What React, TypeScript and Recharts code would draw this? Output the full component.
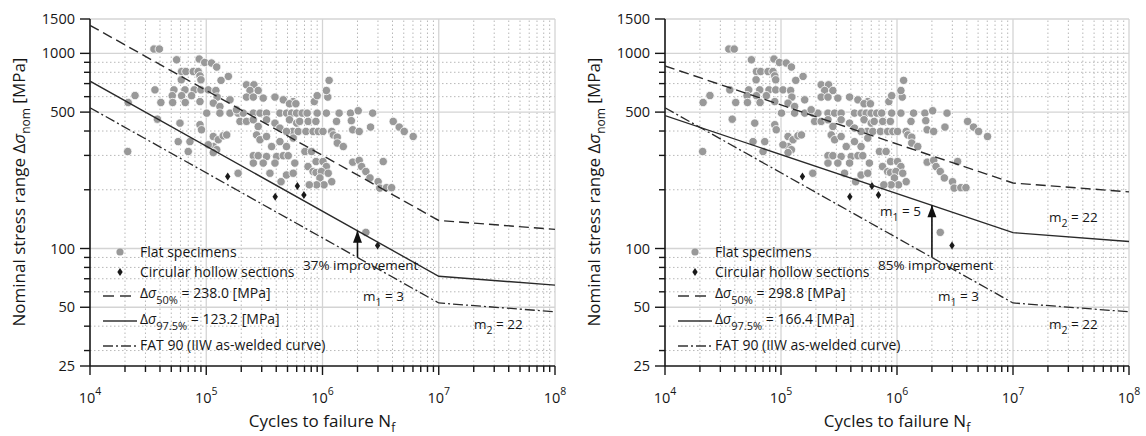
import React from 'react';
import { ScatterChart, Scatter, XAxis, YAxis, ReferenceLine } from 'recharts';

const FONT = "'Open Sans', sans-serif";
const INK = '#161616';

// Flat specimens: [cycles to failure, nominal stress range MPa]
const flatSpecimens: [number, number][] = [
  [3.55e4, 1052], [3.95e4, 1052],
  [5.56e4, 927], [8.7e4, 935], [9.7e4, 898], [1.11e5, 892], [1.23e5, 851], [1.55e5, 762],
  [6.14e4, 807], [6.68e4, 807], [7.73e4, 807], [8.53e4, 807], [8.83e4, 767],
  [6.1e4, 732], [9e4, 732], [1.34e5, 727],
  [2.22e5, 690], [2.57e5, 690],
  [3.62e4, 650], [5.27e4, 650], [6.56e4, 650], [7.88e4, 650], [9e4, 650], [1.04e5, 650], [1.21e5, 645], [2.38e5, 645], [2.8e5, 645],
  [2.44e4, 608], [5.1e4, 607], [6.14e4, 607], [7.48e4, 607], [1.24e5, 597], [1.6e5, 578], [2.22e5, 597], [2.54e5, 597], [3.09e5, 590], [3.9e5, 597], [4.6e5, 578], [5.6e5, 566],
  [2.13e4, 560], [4.07e4, 560], [5.14e4, 560], [6.6e4, 560], [8.83e4, 566], [1.15e5, 556], [1.31e5, 534],
  [5.2e5, 552], [5.9e5, 552], [8.5e5, 566], [9e5, 607], [1.11e6, 597], [1.08e6, 645], [1.14e6, 727],
  [1.01e5, 494], [1.31e5, 494], [1.6e5, 494], [1.88e5, 494], [2.08e5, 494], [2.54e5, 494], [2.9e5, 494], [3.3e5, 494], [4.3e5, 494], [4.91e5, 494], [5.42e5, 494], [5.98e5, 494], [6.69e5, 494], [7.38e5, 494], [9e5, 494], [1.08e6, 494], [1.39e6, 494], [1.74e6, 494], [2.7e6, 494],
  [1.82e5, 514], [2.03e6, 508],
  [3.8e4, 460], [5.94e4, 439], [8.83e4, 431], [9.1e4, 406],
  [1.95e5, 448], [2.22e5, 448], [2.54e5, 457], [2.8e5, 422], [3.3e5, 457], [3.9e5, 439], [4.3e5, 414], [5.2e5, 457], [6e5, 439],
  [6.36e5, 448], [7.53e5, 448], [8.77e5, 448], [1.32e6, 448], [1.77e6, 452],
  [5.53e5, 398], [6.18e5, 398], [7.2e5, 398], [8.3e5, 398], [9.2e5, 398], [1.01e6, 398], [1.2e6, 398],
  [1.82e6, 406], [2.07e6, 398], [2.59e6, 419],
  [4.06e6, 448], [4.57e6, 419], [5.05e6, 398], [6.03e6, 375],
  [5.74e4, 353], [7.24e4, 353],
  [1.15e5, 375], [1.27e5, 361], [1.4e5, 378], [1.5e5, 382], [1.15e5, 333], [1.04e5, 340],
  [2.71e5, 382], [2.9e5, 361], [3.3e5, 375], [3.65e5, 333], [4.3e5, 353], [4.9e5, 398], [5.6e5, 368],
  [1.24e6, 382], [1.34e6, 372], [1.34e6, 347], [1.51e6, 333],
  [2.11e4, 314], [7e4, 314], [1.23e5, 321], [1.15e5, 310],
  [4.9e5, 333], [7.06e5, 314], [8.05e5, 314],
  [2.54e5, 299], [2.8e5, 299], [3.3e5, 296], [4.03e5, 296], [4.6e5, 299], [5.07e5, 299],
  [2.54e5, 274], [3.09e5, 274], [3.9e5, 274], [5.78e5, 274],
  [8.8e5, 279], [1.01e6, 279], [1.08e6, 263], [7.5e5, 263], [8.3e5, 248],
  [1.82e6, 277], [2.07e6, 283], [2.17e6, 263], [2.36e6, 248], [2.56e6, 230], [3.33e6, 279],
  [1.88e5, 243], [3.53e5, 243], [4.9e5, 238], [5.6e5, 243], [4.4e5, 220],
  [8.8e5, 245], [9.8e5, 248], [1.12e6, 243], [9.5e5, 230], [1.2e6, 220], [1.03e6, 212], [8.9e5, 212], [7.7e5, 212],
  [3.01e6, 220], [3.11e6, 204], [3.55e6, 205], [3.93e6, 205],
  [2.36e6, 121],
];

// Circular hollow sections
const hollowSections: [number, number][] = [
  [1.53e5, 234], [3.92e5, 184], [6.08e5, 209], [6.92e5, 188], [2.98e6, 103.6],
];

// Design curves (knee at 1e7 cycles)
const leftMean50: [number, number][] = [[1e4, 1392], [1e7, 139.2], [1e8, 125.4]];
const leftP975: [number, number][] = [[1e4, 720.5], [1e7, 72.05], [1e8, 64.9]];
const rightMean50: [number, number][] = [[1e4, 862], [1e7, 216.6], [1e8, 195.1]];
const rightP975: [number, number][] = [[1e4, 480], [1e7, 120.6], [1e8, 108.6]];
const fat90: [number, number][] = [[1e4, 526.3], [1e7, 52.6], [1e8, 47.4]];

const leftArrow: [number, number][] = [[2e6, 90], [2e6, 123.2]];
const rightArrow: [number, number][] = [[2e6, 90], [2e6, 166.4]];

const xTicks = [
  1e4, 2e4, 3e4, 4e4, 5e4, 6e4, 7e4, 8e4, 9e4,
  1e5, 2e5, 3e5, 4e5, 5e5, 6e5, 7e5, 8e5, 9e5,
  1e6, 2e6, 3e6, 4e6, 5e6, 6e6, 7e6, 8e6, 9e6,
  1e7, 2e7, 3e7, 4e7, 5e7, 6e7, 7e7, 8e7, 9e7,
  1e8,
];
const xLabelled = [1e4, 1e5, 1e6, 1e7, 1e8];
const xSolidGrid = [1e5, 1e6, 1e7, 1e8];
const xDottedGrid = xTicks.filter((v) => !xLabelled.includes(v));

const yTicks = [25, 30, 40, 50, 60, 70, 80, 90, 100, 200, 300, 400, 500, 600, 700, 800, 900, 1000, 1500];
const yLabelled = [25, 50, 100, 500, 1000, 1500];
const ySolidGrid = [50, 100, 500, 1000, 1500];
const yDottedGrid = [30, 40, 60, 70, 80, 90, 200, 300, 400, 600, 700, 800, 900];

const toPts = (arr: [number, number][]) => arr.map(([x, y]) => ({ x, y }));

const YTick = (props: any) => {
  const { x, y, payload } = props;
  const v = payload.value;
  const lab = yLabelled.includes(v);
  const len = lab ? 10 : 6;
  return (
    <g>
      <line x1={x - len} x2={x} y1={y} y2={y} stroke={INK} strokeWidth={1.4} />
      {lab && (
        <text x={x - 15} y={y + 5} textAnchor="end" fontSize={14.5} fontWeight={500} fill={INK} fontFamily={FONT}>
          {v}
        </text>
      )}
    </g>
  );
};

const XTick = (props: any) => {
  const { x, y, payload } = props;
  const v = payload.value;
  const exp = Math.round(Math.log10(v));
  const lab = xLabelled.includes(v);
  const len = lab ? 9 : 6;
  return (
    <g>
      <line x1={x} x2={x} y1={y} y2={y + len} stroke={INK} strokeWidth={1.4} />
      {lab && (
        <text x={x} y={y + 37} textAnchor="middle" fontSize={14.5} fontWeight={500} fill={INK} fontFamily={FONT}>
          10
          <tspan dy={-8} fontSize={10.5}>{exp}</tspan>
        </text>
      )}
    </g>
  );
};

const Dot = (p: any) => (
  <circle cx={p.cx} cy={p.cy} r={4.2} fill="#999999" stroke="#ffffff" strokeWidth={0.8} />
);
const Diamond = (p: any) => (
  <path
    d={`M${p.cx},${p.cy - 4} L${p.cx + 2.7},${p.cy} L${p.cx},${p.cy + 4} L${p.cx - 2.7},${p.cy} Z`}
    fill="#1a1a1a"
  />
);
const NoShape = () => <g />;
const ArrowHead = (p: any) => (
  <path d={`M${p.cx},${p.cy} L${p.cx + 4.5},${p.cy + 12} L${p.cx - 4.5},${p.cy + 12} Z`} fill="#111" />
);

const DASH = '10 5';
const DASHDOT = '10 3 2 3';

type PanelProps = {
  plotLeft: number;
  plotRight: number;
  mean: [number, number][];
  lower: [number, number][];
  arrow: [number, number][];
  meanLabel: string;
  lowerLabel: string;
  improvement: string;
  upperSlope: boolean;
};

function Panel({ plotLeft, plotRight, mean, lower, arrow, meanLabel, lowerLabel, improvement, upperSlope }: PanelProps) {
  const W = 573;
  const H = 436;
  const L = plotLeft;
  const txt = { fontFamily: FONT, fill: INK, fontWeight: 500 } as any;
  return (
    <div style={{ position: 'relative', width: W, height: H }}>
      <ScatterChart width={W} height={H} margin={{ top: 19, right: W - plotRight, bottom: 0, left: 0 }}>
        <XAxis
          type="number"
          dataKey="x"
          scale="log"
          domain={[1e4, 1e8]}
          allowDataOverflow
          ticks={xTicks}
          interval={0}
          height={70}
          tickSize={0}
          tickMargin={0}
          tickLine={false}
          tick={<XTick />}
          axisLine={{ stroke: INK, strokeWidth: 1.6 }}
        />
        <YAxis
          type="number"
          dataKey="y"
          scale="log"
          domain={[25, 1500]}
          allowDataOverflow
          ticks={yTicks}
          interval={0}
          width={plotLeft}
          tickSize={0}
          tickMargin={0}
          tickLine={false}
          tick={<YTick />}
          axisLine={{ stroke: INK, strokeWidth: 1.6 }}
        />
        {yDottedGrid.map((v) => (
          <ReferenceLine key={'yd' + v} y={v} stroke="#b8b8b8" strokeWidth={1} strokeDasharray="1.5 2.5" />
        ))}
        {xDottedGrid.map((v) => (
          <ReferenceLine key={'xd' + v} x={v} stroke="#b8b8b8" strokeWidth={1} strokeDasharray="1.5 2.5" />
        ))}
        {ySolidGrid.map((v) => (
          <ReferenceLine key={'ys' + v} y={v} stroke="#d4d4d4" strokeWidth={1.3} />
        ))}
        {xSolidGrid.map((v) => (
          <ReferenceLine key={'xs' + v} x={v} stroke="#d4d4d4" strokeWidth={1.3} />
        ))}
        <Scatter data={toPts(flatSpecimens)} shape={Dot} isAnimationActive={false} />
        <Scatter data={toPts(hollowSections)} shape={Diamond} isAnimationActive={false} />
        <Scatter
          data={toPts(mean)}
          line={{ stroke: '#2a2a2a', strokeWidth: 1.4, strokeDasharray: DASH }}
          lineType="joint"
          shape={NoShape}
          isAnimationActive={false}
        />
        <Scatter
          data={toPts(lower)}
          line={{ stroke: '#2a2a2a', strokeWidth: 1.4 }}
          lineType="joint"
          shape={NoShape}
          isAnimationActive={false}
        />
        <Scatter
          data={toPts(fat90)}
          line={{ stroke: '#2a2a2a', strokeWidth: 1.3, strokeDasharray: DASHDOT }}
          lineType="joint"
          shape={NoShape}
          isAnimationActive={false}
        />
        <Scatter
          data={toPts(arrow)}
          line={{ stroke: '#111', strokeWidth: 1.6 }}
          lineType="joint"
          shape={NoShape}
          isAnimationActive={false}
        />
        <Scatter data={toPts(arrow.slice(1))} shape={ArrowHead} isAnimationActive={false} />
      </ScatterChart>
      <svg
        width={W}
        height={H}
        style={{ position: 'absolute', left: 0, top: 0, pointerEvents: 'none' }}
      >
        {/* axis titles */}
        <text
          {...txt}
          x={L - 65}
          y={192}
          fontSize={17}
          textAnchor="middle"
          transform={`rotate(-90 ${L - 65} 192)`}
        >
          Nominal stress range Δ<tspan fontStyle="italic">σ</tspan>
          <tspan dy={5} fontSize={12}>nom</tspan>
          <tspan dy={-5}> [MPa]</tspan>
        </text>
        <text {...txt} x={L + 232} y={427} fontSize={17} textAnchor="middle">
          Cycles to failure N<tspan dy={5} fontSize={12}>f</tspan>
        </text>

        {/* legend */}
        <circle cx={L + 30} cy={252} r={3.6} fill="#999999" />
        <text {...txt} x={L + 50} y={257} fontSize={14}>Flat specimens</text>
        <path d={`M${L + 30},${268} L${L + 32.7},${272} L${L + 30},${276} L${L + 27.3},${272} Z`} fill="#1a1a1a" />
        <text {...txt} x={L + 50} y={277} fontSize={14}>Circular hollow sections</text>
        <line x1={L + 13} x2={L + 43} y1={296} y2={296} stroke="#333" strokeWidth={1.3} strokeDasharray="11 6" />
        <text {...txt} x={L + 50} y={298} fontSize={14}>
          Δ<tspan fontStyle="italic">σ</tspan>
          <tspan dy={6} fontSize={11}>50%</tspan>
          <tspan dy={-6}>{' = ' + meanLabel + ' [MPa]'}</tspan>
        </text>
        <line x1={L + 13} x2={L + 47} y1={321} y2={321} stroke="#333" strokeWidth={1.3} />
        <text {...txt} x={L + 50} y={324} fontSize={14}>
          Δ<tspan fontStyle="italic">σ</tspan>
          <tspan dy={6} fontSize={11}>97.5%</tspan>
          <tspan dy={-6}>{' = ' + lowerLabel + ' [MPa]'}</tspan>
        </text>
        <line x1={L + 13} x2={L + 46} y1={346} y2={346} stroke="#333" strokeWidth={1.3} strokeDasharray={DASHDOT} />
        <text {...txt} x={L + 50} y={350} fontSize={14}>FAT 90 (IIW as-welded curve)</text>

        {/* annotations */}
        <text {...txt} x={L + 213} y={270} fontSize={13.5}>{improvement}</text>
        <text {...txt} x={L + 273} y={300.5} fontSize={13.5}>
          m<tspan dy={5} fontSize={10.5}>1</tspan>
          <tspan dy={-5}> = 3</tspan>
        </text>
        <text {...txt} x={L + 384} y={328.5} fontSize={13.5}>
          m<tspan dy={5} fontSize={10.5}>2</tspan>
          <tspan dy={-5}> = 22</tspan>
        </text>
        {upperSlope && (
          <g>
            <text {...txt} x={L + 215} y={215.5} fontSize={13.5}>
              m<tspan dy={5} fontSize={10.5}>1</tspan>
              <tspan dy={-5}> = 5</tspan>
            </text>
            <text {...txt} x={L + 384} y={221.5} fontSize={13.5}>
              m<tspan dy={5} fontSize={10.5}>2</tspan>
              <tspan dy={-5}> = 22</tspan>
            </text>
          </g>
        )}
      </svg>
    </div>
  );
}

export default function App() {
  return (
    <div
      style={{
        position: 'absolute',
        left: 0,
        top: 0,
        width: 1146,
        height: 436,
        background: '#fff',
        display: 'flex',
        fontFamily: FONT,
      }}
    >
      <Panel
        plotLeft={90}
        plotRight={555}
        mean={leftMean50}
        lower={leftP975}
        arrow={leftArrow}
        meanLabel="238.0"
        lowerLabel="123.2"
        improvement="37% improvement"
        upperSlope={false}
      />
      <Panel
        plotLeft={92}
        plotRight={556}
        mean={rightMean50}
        lower={rightP975}
        arrow={rightArrow}
        meanLabel="298.8"
        lowerLabel="166.4"
        improvement="85% improvement"
        upperSlope={true}
      />
    </div>
  );
}
